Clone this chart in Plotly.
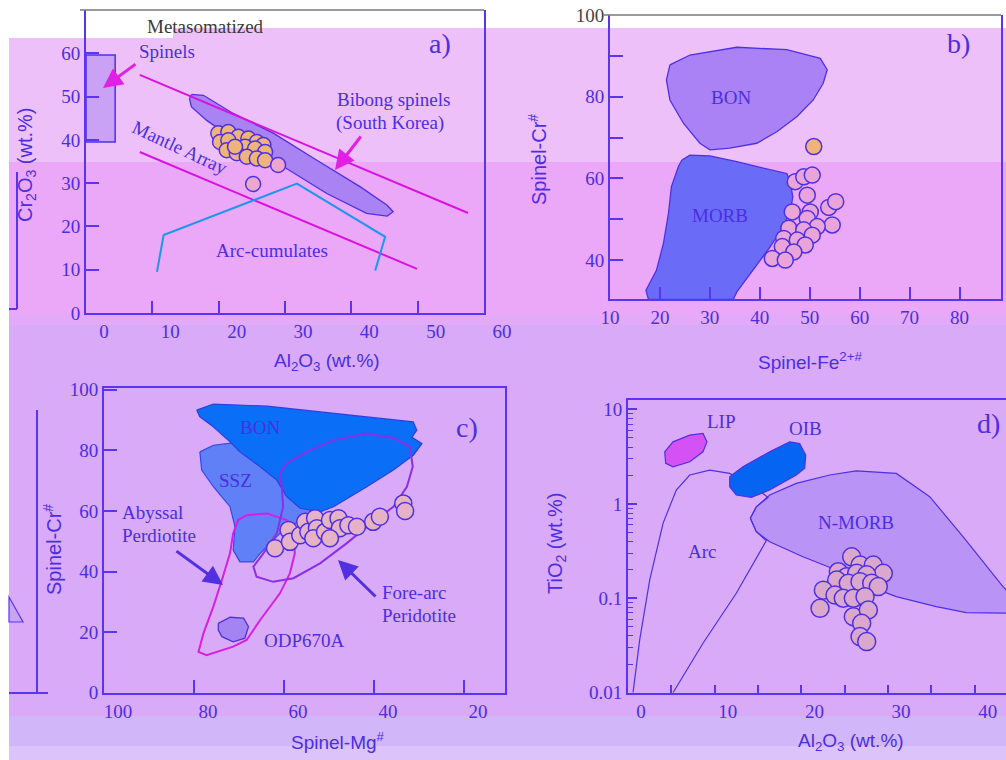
import plotly.graph_objects as go

W, H = 1006, 760

# ---------------- DATA ----------------
# Panel a: Cr2O3 vs Al2O3
a_meta_x = [0, 4.4, 4.4, 0, 0]
a_meta_y = [39.5, 39.5, 59.6, 59.6, 39.5]
a_bibong_x = [15.9, 17.7, 22.2, 28.3, 34.8, 41.3, 45.4, 46.3, 45.4, 42.3, 36.3, 29.8, 23.2, 18.2, 15.9, 15.6, 15.9]
a_bibong_y = [50.5, 50.3, 46.1, 41.5, 35.3, 29.2, 24.9, 23.4, 22.4, 23.0, 27.6, 33.8, 39.2, 44.5, 47.6, 49.5, 50.5]
a_upper_line_x = [8.1, 57.6]
a_upper_line_y = [55.0, 23.1]
a_mantle_x = [8.1, 49.9]
a_mantle_y = [37.2, 10.2]
a_arc_x = [10.7, 11.7, 31.8, 45.1, 43.6]
a_arc_y = [9.5, 18.0, 29.9, 17.6, 9.8]
a_orange_x = [19.95, 21.46, 22.97, 24.48, 25.75, 26.74, 20.21, 21.46, 23.98, 25.49, 27.0, 21.22, 22.73, 24.24, 25.75, 27.0, 22.47]
a_orange_y = [41.5, 41.8, 40.7, 40.3, 39.5, 38.8, 39.5, 39.9, 38.4, 38.0, 37.2, 37.6, 36.9, 36.1, 35.7, 35.3, 38.4]
a_pink_x = [25.19, 28.96]
a_pink_y = [29.8, 34.2]

# Panel b: Cr# vs Fe2+#
b_bon_x = [22.0, 26.0, 35.4, 45.4, 52.1, 53.5, 52.7, 50.7, 47.4, 43.4, 39.4, 34.0, 30.0, 28.0, 24.7, 22.0, 21.3, 22.0]
b_bon_y = [87.8, 90.2, 92.1, 91.5, 89.4, 86.6, 83.3, 79.2, 75.1, 71.4, 68.6, 67.4, 67.0, 68.6, 73.5, 79.2, 84.1, 87.8]
b_morb_x = [24.4, 26.0, 30.0, 35.4, 40.7, 45.4, 46.1, 46.6, 46.2, 44.7, 42.1, 38.1, 35.4, 34.7, 17.7, 17.2, 19.3, 20.7, 21.7, 22.3, 23.7, 24.4]
b_morb_y = [64.5, 65.7, 65.5, 64.1, 62.5, 61.2, 59.2, 55.5, 52.3, 48.2, 43.3, 36.7, 32.2, 30.4, 30.4, 32.6, 37.5, 44.1, 51.4, 58.0, 62.9, 64.5]
b_orange_x = [50.8]
b_orange_y = [67.8]
b_pink_x = [47.1, 48.8, 50.5, 49.5, 46.5, 50.1, 53.8, 55.2, 54.5, 49.5, 51.5, 45.8, 48.8, 50.5, 44.8, 47.5, 49.1, 44.5, 46.8, 42.5, 45.1]
b_pink_y = [59.2, 60.4, 60.8, 55.9, 51.8, 51.8, 52.9, 54.3, 48.6, 50.2, 48.2, 47.8, 47.4, 46.1, 45.3, 44.9, 43.7, 43.3, 42.0, 40.4, 40.0]

# Panel c: Cr# vs Mg#
c_ssz_x = [78.7, 75.7, 71.3, 52.0, 32.0, 29.4, 31.3, 52.0, 56.4, 60.9, 65.3, 66.8, 69.8, 71.3, 70.9, 72.0, 75.7, 78.3, 78.7]
c_ssz_y = [79.5, 81.7, 82.5, 83.4, 84.3, 82.1, 78.4, 59.7, 57.0, 52.6, 46.0, 43.2, 43.2, 47.1, 54.8, 61.4, 68.0, 73.5, 79.5]
c_bon_x = [79.4, 75.7, 63.8, 49.0, 31.3, 30.5, 31.6, 29.4, 31.3, 35.7, 41.6, 49.0, 52.0, 56.4, 59.4, 61.6, 65.3, 69.8, 72.0, 75.7, 78.7, 79.4]
c_bon_y = [93.3, 95.3, 94.6, 92.2, 89.4, 86.7, 84.3, 82.3, 78.4, 73.5, 68.0, 61.4, 59.7, 60.9, 64.7, 70.2, 74.6, 79.5, 82.8, 87.8, 91.1, 93.3]
c_aby_x = [68.3, 63.8, 59.4, 57.9, 57.6, 58.7, 60.9, 65.3, 68.3, 71.3, 77.2, 79.0, 77.9, 75.7, 73.8, 72.0, 71.3, 70.2, 68.3]
c_aby_y = [58.6, 59.2, 57.0, 54.8, 46.0, 39.4, 32.8, 24.0, 17.4, 15.2, 12.4, 13.5, 19.6, 28.4, 37.2, 46.0, 52.6, 57.0, 58.6]
c_fore_x = [60.9, 59.4, 55.0, 49.0, 41.6, 35.7, 32.0, 31.4, 32.7, 35.7, 41.6, 46.1, 52.0, 57.9, 62.4, 66.1, 66.8, 64.6, 61.6, 60.2, 60.5, 60.9]
c_fore_y = [72.4, 75.7, 79.5, 83.4, 85.6, 84.1, 81.2, 74.6, 68.0, 61.4, 54.8, 49.3, 42.7, 37.8, 36.6, 38.3, 41.6, 46.0, 52.6, 61.4, 68.0, 72.4]
c_odp_x = [74.6, 72.0, 69.0, 67.9, 68.7, 71.3, 73.8, 74.6, 74.6]
c_odp_y = [22.9, 24.9, 24.6, 21.8, 18.0, 16.8, 18.5, 20.7, 22.9]
c_pts_x = [62.0, 59.0, 58.7, 56.4, 55.3, 54.6, 53.1, 52.7, 53.5, 50.9, 49.8, 47.9, 47.6, 45.7, 43.8, 40.2, 38.7, 33.5, 33.1, 49.8]
c_pts_y = [47.7, 53.7, 49.8, 52.0, 56.4, 53.1, 57.6, 54.3, 51.0, 53.1, 57.0, 57.6, 54.3, 55.3, 54.8, 56.4, 58.1, 62.5, 60.0, 51.0]

# Panel d: TiO2 vs Al2O3
d_lip_x = [4.23, 5.19, 7.12, 8.65, 9.11, 8.65, 7.12, 5.19, 4.35, 4.23]
d_lip_y = [3.56, 4.54, 5.35, 5.57, 4.54, 3.56, 2.79, 2.47, 2.69, 3.56]
d_oib_x = [11.73, 13.26, 16.34, 18.65, 19.80, 20.50, 20.38, 19.41, 16.34, 14.22, 12.49, 11.73, 11.73]
d_oib_y = [1.94, 2.47, 3.56, 4.54, 4.36, 3.28, 2.38, 2.02, 1.40, 1.17, 1.24, 1.52, 1.94]
d_arc_x = [0.58, 1.35, 2.50, 4.04, 5.57, 7.12, 9.42, 11.73, 15.57, 16.15, 14.80, 14.11, 14.80, 15.95, 12.49, 8.65, 5.19]
d_arc_y = [0.01, 0.0362, 0.156, 0.622, 1.40, 2.02, 2.28, 2.10, 1.29, 1.17, 0.93, 0.703, 0.507, 0.407, 0.113, 0.0334, 0.01]
d_nmorb_x = [14.11, 14.80, 16.34, 19.41, 23.26, 26.34, 30.95, 34.8, 38.64, 41.72, 43.25, 44.4, 44.4, 39.02, 35.56, 30.95, 27.88, 24.03, 20.18, 16.34, 14.80, 14.11]
d_nmorb_y = [0.703, 0.93, 1.24, 1.65, 2.02, 2.24, 2.10, 1.19, 0.449, 0.199, 0.133, 0.104, 0.0693, 0.0705, 0.0815, 0.104, 0.133, 0.199, 0.275, 0.397, 0.507, 0.703]
d_pts_x = [25.8, 26.76, 28.29, 29.45, 24.26, 25.23, 26.38, 27.53, 24.07, 25.41, 26.76, 28.11, 28.87, 22.53, 23.88, 24.83, 25.99, 27.34, 22.15, 25.99, 27.72, 26.95, 26.76, 27.53]
d_pts_y = [0.275, 0.225, 0.225, 0.184, 0.191, 0.169, 0.184, 0.177, 0.156, 0.144, 0.150, 0.144, 0.133, 0.122, 0.108, 0.100, 0.100, 0.104, 0.0783, 0.0638, 0.0752, 0.0543, 0.0393, 0.0348]

# Tick labels
a_xticks = [0, 10, 20, 30, 40, 50, 60]
a_yticks = [0, 10, 20, 30, 40, 50, 60, 70]
b_xticks = [10, 20, 30, 40, 50, 60, 70, 80]
b_yticks = [40, 50, 60, 70, 80, 90, 100]
b_ylabels = ["40", " ", "60", " ", "80", " ", "100"]
c_xticks = [100, 80, 60, 40, 20]
c_yticks = [0, 20, 40, 60, 80, 100]
d_xticks = [0, 5, 10, 15, 20, 25, 30, 35, 40]
d_xlabels = ["0", " ", "10", " ", "20", " ", "30", " ", "40"]
d_yticks = [0.01, 0.1, 1, 10]
d_ylabels = ["0.01", "0.1", "1", "10"]
d_yminor = [0.02, 0.03, 0.04, 0.05, 0.06, 0.07, 0.08, 0.09,
            0.2, 0.3, 0.4, 0.5, 0.6, 0.7, 0.8, 0.9,
            2, 3, 4, 5, 6, 7, 8, 9]

# ---------------- STYLE ----------------
TXT = "#4B2EE0"
AX = "#5A34EE"
EDGE = "#4E30E4"
GRAY = "#7A7A7A"
SERIF = "Liberation Serif"
SANS = "Liberation Sans"


def px(x):
    return x / W


def py(y):
    return 1 - y / H


fig = go.Figure()


def poly(x, y, fill, line, ax, width=1.3):
    fig.add_trace(go.Scatter(x=x, y=y, mode="lines", fill="toself" if fill else None,
                             fillcolor=fill, line=dict(color=line, width=width),
                             xaxis=ax[0], yaxis=ax[1], hoverinfo="skip", showlegend=False))


def pts(x, y, color, ax, size):
    fig.add_trace(go.Scatter(x=x, y=y, mode="markers",
                             marker=dict(size=size, color=color, line=dict(color=EDGE, width=1.5)),
                             xaxis=ax[0], yaxis=ax[1], showlegend=False))


A = ("x", "y")
B = ("x2", "y2")
C = ("x3", "y3")
D = ("x4", "y4")

# Panel a
poly(a_meta_x, a_meta_y, "#C9A2F6", EDGE, A, 1.5)
poly(a_bibong_x, a_bibong_y, "#A982F4", EDGE, A, 1.3)
poly(a_upper_line_x, a_upper_line_y, None, "#D812E0", A, 2)
poly(a_mantle_x, a_mantle_y, None, "#D812E0", A, 2)
poly(a_arc_x, a_arc_y, None, "#1E96F0", A, 2)
pts(a_orange_x, a_orange_y, "#EFB37C", A, 15)
pts(a_pink_x, a_pink_y, "#EDA6CC", A, 15)

# Panel b
poly(b_bon_x, b_bon_y, "#AA82F6", EDGE, B, 1.3)
poly(b_morb_x, b_morb_y, "#6A6CF8", EDGE, B, 1.3)
pts(b_pink_x, b_pink_y, "#E9A4DA", B, 16)
pts(b_orange_x, b_orange_y, "#EFB37C", B, 16)

# Panel c
poly(c_ssz_x, c_ssz_y, "#5F80F6", "#3A46E6", C, 1.2)
poly(c_bon_x, c_bon_y, "#0A6EF6", "#2A40E0", C, 1.2)
poly(c_aby_x, c_aby_y, None, "#D61EE4", C, 2)
poly(c_fore_x, c_fore_y, None, "#8C2EE6", C, 2)
poly(c_odp_x, c_odp_y, "#A484F2", EDGE, C, 1.3)
pts(c_pts_x, c_pts_y, "#E6B2C8", C, 17)

# Panel d
poly(d_nmorb_x, d_nmorb_y, "#B993F5", EDGE, D, 1.2)
poly(d_arc_x, d_arc_y, None, EDGE, D, 1.2)
poly(d_lip_x, d_lip_y, "#D452F4", EDGE, D, 1.2)
poly(d_oib_x, d_oib_y, "#0664F2", EDGE, D, 1.2)
pts(d_pts_x, d_pts_y, "#DAA8CC", D, 18)

# ---------------- AXES ----------------
tickfont = dict(family=SERIF, size=19, color=TXT)
common = dict(showgrid=False, zeroline=False, showline=True, linecolor=AX, linewidth=2,
              ticks="inside", tickcolor=AX, tickwidth=2, tickfont=tickfont,
              automargin=False)

fig.update_layout(
    width=W, height=H, margin=dict(l=0, r=0, t=0, b=0, autoexpand=False),
    paper_bgcolor="white", plot_bgcolor="rgba(0,0,0,0)", showlegend=False,
    xaxis=dict(domain=[px(86), px(484)], range=[0, 60], anchor="y", tickvals=a_xticks,
               ticklen=12, ticklabelshift=18, mirror=False, **common),
    yaxis=dict(domain=[py(313), py(10)], range=[0, 70], anchor="x", tickvals=a_yticks,
               ticktext=[str(v) if v != 70 else "<span style='color:#444'>70</span>" for v in a_yticks],
               ticklen=13, mirror=True, **common),
    xaxis2=dict(domain=[px(610), px(1001)], range=[10, 88.3], anchor="y2", tickvals=b_xticks,
                ticklen=12, mirror=False, **common),
    yaxis2=dict(domain=[py(299.3), py(15)], range=[30.4, 100], anchor="x2", tickvals=b_yticks,
                ticktext=[l if l != "100" else "<span style='color:#444'>100</span>" for l in b_ylabels],
                ticklen=13, mirror=True, **common),
    xaxis3=dict(domain=[px(104), px(505)], range=[100, 10.9], anchor="y3", tickvals=c_xticks,
                ticklen=13, ticklabelshift=-14, mirror=True, **common),
    yaxis3=dict(domain=[py(692.7), py(388)], range=[0, 100.6], anchor="x3", tickvals=c_yticks,
                ticklen=13, mirror=True, **common),
    xaxis4=dict(domain=[px(628), 1.0], range=[0, 43.6], anchor="y4", tickvals=d_xticks,
                ticktext=d_xlabels, ticklen=8, ticklabelshift=13, mirror=True, **common),
    yaxis4=dict(domain=[py(692.7), py(400)], type="log", range=[-2, 1.1], anchor="x4",
                tickvals=d_yticks, ticktext=d_ylabels, ticklen=9, mirror=True,
                minor=dict(ticks="inside", ticklen=5, tickcolor=AX, tickwidth=1.2,
                           tickvals=d_yminor, showgrid=False),
                **common),
)

# ---------------- BACKGROUND BANDS ----------------
bands = [
    (9, 38, 173, 162, "#EEC0FA"),
    (173, 28, 1006, 162, "#EEC0FA"),
    (9, 162, 1006, 315, "#EBA8F8"),
    (9, 315, 1006, 325, "#E2AAF8"),
    (9, 325, 1006, 716, "#D8AAF8"),
    (9, 716, 1006, 746, "#D2B6FA"),
    (9, 746, 1006, 760, "#DCC4FA"),
]
shapes = []
for x0, y0, x1, y1, col in bands:
    shapes.append(dict(type="rect", xref="paper", yref="paper", x0=px(x0), x1=px(x1),
                       y0=py(y1), y1=py(y0), fillcolor=col, line=dict(width=0), layer="below"))


def seg(x0, y0, x1, y1, color=AX, width=2):
    shapes.append(dict(type="line", xref="paper", yref="paper", x0=px(x0), x1=px(x1),
                       y0=py(y0), y1=py(y1), line=dict(color=color, width=width)))


# gray frame tops of panels a and b (in the white strip)
seg(80, 10, 484, 10, GRAY, 1.5)
seg(603, 15, 1001, 15, GRAY, 1.5)
# remnants of neighbouring panels at the left edge
seg(17, 172, 17, 309)
seg(9, 309, 17, 309)
seg(37, 410, 37, 693)
seg(9, 693, 48, 693)
shapes.append(dict(type="path", xref="paper", yref="paper",
                   path=f"M {px(9)} {py(597)} L {px(23)} {py(622)} L {px(9)} {py(622)} Z",
                   fillcolor="#C7A4F4", line=dict(color=AX, width=1.2)))
fig.update_layout(shapes=shapes)

# ---------------- TEXT ----------------
ann = []


def text(t, x, y, size=19, color=TXT, family=SERIF, angle=0, xanchor="center"):
    ann.append(dict(text=t, x=px(x), y=py(y), xref="paper", yref="paper", showarrow=False,
                    font=dict(family=family, size=size, color=color), textangle=angle,
                    xanchor=xanchor, yanchor="middle"))


def arrow(hx, hy, tx, ty, color, width=3):
    ann.append(dict(text="", x=px(hx), y=py(hy), xref="paper", yref="paper", showarrow=True,
                    ax=tx - hx, ay=ty - hy, arrowhead=2, arrowsize=1.3, arrowwidth=width,
                    arrowcolor=color))


# axis titles
text("Cr<sub>2</sub>O<sub>3</sub> (wt.%)", 27, 165, 20, family=SANS, angle=-90)
text("Al<sub>2</sub>O<sub>3</sub> (wt.%)", 327, 362, 19, family=SANS)
text("Spinel-Cr<sup>#</sup>", 537, 160, 20, family=SANS, angle=-90)
text("Spinel-Fe<sup>2+#</sup>", 810, 361, 19, family=SANS)
text("Spinel-Cr<sup>#</sup>", 52, 550, 20, family=SANS, angle=-90)
text("Spinel-Mg<sup>#</sup>", 338, 741, 19, family=SANS)
text("TiO<sub>2</sub> (wt.%)", 556, 543, 20, family=SANS, angle=-90)
text("Al<sub>2</sub>O<sub>3</sub> (wt.%)", 851, 742, 19, family=SANS)

# panel labels
text("a)", 440, 43, 28)
text("b)", 958, 43, 28)
text("c)", 467, 427, 28)
text("d)", 988, 423, 28)

# panel a
text("Metasomatized", 205, 27, 19, color="#3A3A3A")
text("Spinels", 167, 52, 19)
arrow(103, 88, 137, 63, "#E020E4")
text("Bibong spinels", 393, 100, 19)
text("(South Korea)", 390, 123, 19)
arrow(335, 170, 362, 135, "#E020E4")
text("Mantle Array", 180, 147, 19, angle=25)
text("Arc-cumulates", 272, 251, 19)

# panel b
text("BON", 731, 97, 19)
text("MORB", 720, 215, 19)

# panel c
text("BON", 260, 427, 19)
text("SSZ", 235, 480, 19)
text("Abyssal", 120, 512, 19, xanchor="left")
text("Perdiotite", 120, 535, 19, xanchor="left")
arrow(223, 585, 175, 550, "#5030E0")
text("Fore-arc", 380, 592, 19, xanchor="left")
text("Peridotite", 380, 615, 19, xanchor="left")
arrow(338, 560, 377, 598, "#5030E0")
text("ODP670A", 304, 640, 19)

# panel d
text("LIP", 721, 422, 19)
text("OIB", 805, 428, 19)
text("Arc", 702, 551, 19)
text("N-MORB", 856, 522, 19)

fig.update_layout(annotations=ann)

fig.write_html("out.html", config={"displayModeBar": False},
               post_script="document.body.style.margin='0';document.body.style.overflow='hidden';")
